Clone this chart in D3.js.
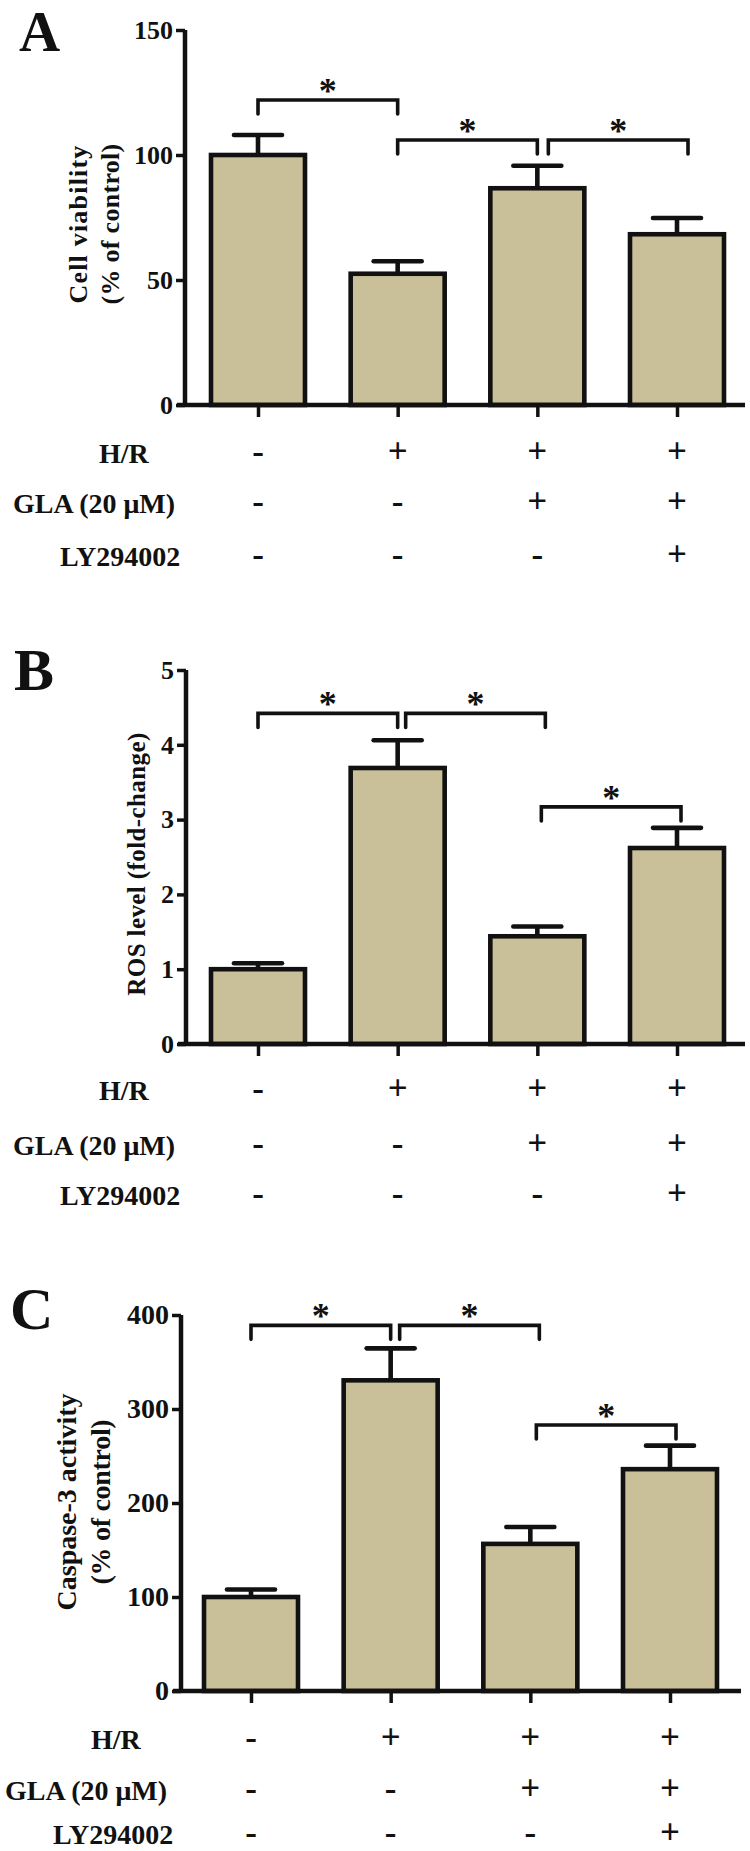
<!DOCTYPE html>
<html>
<head>
<meta charset="utf-8">
<script src="https://cdn.jsdelivr.net/npm/d3@7"></script>
<style>
  html, body { margin: 0; padding: 0; background: #fff; }
  svg text { font-family: "Liberation Serif", "Times New Roman", serif; font-weight: bold; fill: #111; }
</style>
</head>
<body>
<svg id="chart" width="750" height="1851"></svg>
<script>
// ---------- data ----------
const categories = ["Control", "H/R", "H/R + GLA", "H/R + GLA + LY294002"];
const rowLabels = ["H/R", "GLA (20 μM)", "LY294002"];
const rowSigns = [
  ["-", "+", "+", "+"],
  ["-", "-", "+", "+"],
  ["-", "-", "-", "+"]
];

const panelLetters = ["A", "B", "C"];

const valuesA = [100, 52.5, 86.7, 68.3];
const errorsA = [8, 5, 9, 6.5];
const ticksA = [0, 50, 100, 150];
const titleA = ["Cell viability", "(% of control)"];
const bracketsA = [[0, 1, 122], [1, 2, 106], [2, 3, 106]];

const valuesB = [1.0, 3.69, 1.44, 2.62];
const errorsB = [0.08, 0.37, 0.13, 0.27];
const ticksB = [0, 1, 2, 3, 4, 5];
const titleB = ["ROS level (fold-change)"];
const bracketsB = [[0, 1, 4.42], [1, 2, 4.42], [2, 3, 3.17]];

const valuesC = [100, 330.5, 156.5, 236];
const errorsC = [8, 34, 18, 25];
const ticksC = [0, 100, 200, 300, 400];
const titleC = ["Caspase-3 activity", "(% of control)"];
const bracketsC = [[0, 1, 389], [1, 2, 389], [2, 3, 283]];

// ---------- layout (positions / styles) ----------
const panels = [
  { letter: panelLetters[0], values: valuesA, errors: errorsA, ticks: ticksA, title: titleA, brackets: bracketsA,
    axisX: 185, yTop: 30, yBottom: 405, c0: 258, c3: 677, axisRight: 745,
    letterPos: [19, 51], letterSize: 57, titleX: [78, 110], titleY: 224, titleSize: 26, titleSpacing: [1.2, 0.3],
    tickSize: 26, rowBase: [463, 513, 566], rowX: [99, 13, 60], nudge: [0, 0, 11] },
  { letter: panelLetters[1], values: valuesB, errors: errorsB, ticks: ticksB, title: titleB, brackets: bracketsB,
    axisX: 186, yTop: 670, yBottom: 1044, c0: 258, c3: 677, axisRight: 745,
    letterPos: [14, 690], letterSize: 60, titleX: [136], titleY: 864, titleSize: 25, titleSpacing: [0.4],
    tickSize: 26, rowBase: [1100, 1155, 1205], rowX: [99, 13, 60], nudge: [0, 8, 4] },
  { letter: panelLetters[2], values: valuesC, errors: errorsC, ticks: ticksC, title: titleC, brackets: bracketsC,
    axisX: 181, yTop: 1315, yBottom: 1691, c0: 251, c3: 670, axisRight: 741,
    letterPos: [10, 1329], letterSize: 60, titleX: [66, 100], titleY: 1502, titleSize: 28, titleSpacing: [0, -0.3],
    tickSize: 28, rowBase: [1749, 1800, 1844], rowX: [91, 5, 53], nudge: [0, 9, 6] }
];

const fill = "#c9bf99";
const ink = "#111";
const barW = 94, barStroke = 4.6, capW = 48, axisStroke = 4.5, bracketStroke = 3.6, legLen = 14;

const svg = d3.select("#chart");

panels.forEach(p => {
  const g = svg.append("g");
  const yMax = p.ticks[p.ticks.length - 1];
  const y = d3.scaleLinear().domain([0, yMax]).range([p.yBottom, p.yTop]);
  const x = d3.scalePoint().domain(categories).range([p.c0, p.c3]);

  // panel letter
  g.append("text").attr("x", p.letterPos[0]).attr("y", p.letterPos[1])
    .style("font-size", p.letterSize + "px").text(p.letter);

  // bars
  g.selectAll("rect.bar").data(p.values).join("rect")
    .attr("class", "bar")
    .attr("x", (d, i) => x(categories[i]) - barW / 2)
    .attr("y", d => y(d))
    .attr("width", barW)
    .attr("height", d => y(0) - y(d))
    .attr("fill", fill).attr("stroke", ink).attr("stroke-width", barStroke);

  // error bars (upper only)
  g.selectAll("line.err").data(p.values).join("line")
    .attr("class", "err")
    .attr("x1", (d, i) => x(categories[i])).attr("x2", (d, i) => x(categories[i]))
    .attr("y1", d => y(d)).attr("y2", (d, i) => y(d + p.errors[i]))
    .attr("stroke", ink).attr("stroke-width", barStroke);
  g.selectAll("line.cap").data(p.values).join("line")
    .attr("class", "cap")
    .attr("x1", (d, i) => x(categories[i]) - capW / 2).attr("x2", (d, i) => x(categories[i]) + capW / 2)
    .attr("y1", (d, i) => y(d + p.errors[i])).attr("y2", (d, i) => y(d + p.errors[i]))
    .attr("stroke", ink).attr("stroke-width", barStroke).attr("stroke-linecap", "round");

  // y axis
  const yAxis = d3.axisLeft(y).tickValues(p.ticks).tickSize(9).tickPadding(3).tickFormat(d3.format("d"));
  const ya = g.append("g").attr("transform", `translate(${p.axisX},0)`).call(yAxis);
  ya.select(".domain").attr("d", `M0,${p.yTop}V${p.yBottom}`).attr("stroke", ink).attr("stroke-width", axisStroke);
  ya.selectAll(".tick line").attr("stroke", ink).attr("stroke-width", 3.5);
  ya.selectAll(".tick text").attr("fill", ink)
    .style("font-family", '"Liberation Serif", "Times New Roman", serif')
    .style("font-weight", "bold").style("font-size", p.tickSize + "px");

  // x axis
  const xAxis = d3.axisBottom(x).tickSize(12).tickFormat("");
  const xa = g.append("g").attr("transform", `translate(0,${p.yBottom})`).call(xAxis);
  xa.select(".domain").attr("d", `M${p.axisX - 8},0H${p.axisRight}`).attr("stroke", ink).attr("stroke-width", axisStroke);
  xa.selectAll(".tick line").attr("stroke", ink).attr("stroke-width", 3.5);

  // y title
  p.title.forEach((t, k) => {
    g.append("text")
      .attr("transform", `translate(${p.titleX[k]},${p.titleY}) rotate(-90)`)
      .attr("text-anchor", "middle").attr("dominant-baseline", "central")
      .style("font-size", p.titleSize + "px").style("letter-spacing", p.titleSpacing[k] + "px")
      .text(t);
  });

  // significance brackets
  p.brackets.forEach(([a, b, v], k) => {
    const shift = p.nudge[k];
    const xa1 = x(categories[a]) + shift, xb1 = x(categories[b]) + shift;
    const yy = y(v);
    g.append("path")
      .attr("d", `M${xa1},${yy + legLen}V${yy}H${xb1}V${yy + legLen}`)
      .attr("fill", "none").attr("stroke", ink).attr("stroke-width", bracketStroke)
      .attr("stroke-linecap", "round").attr("stroke-linejoin", "miter");
    g.append("text").attr("x", (xa1 + xb1) / 2).attr("y", yy + 3)
      .attr("text-anchor", "middle").style("font-size", "36px").text("*");
  });

  // treatment rows
  rowLabels.forEach((lab, r) => {
    g.append("text").attr("x", p.rowX[r]).attr("y", p.rowBase[r])
      .style("font-size", "28px").text(lab);
    g.selectAll(null).data(rowSigns[r]).join("text")
      .attr("x", (d, i) => x(categories[i]))
      .attr("y", p.rowBase[r])
      .attr("text-anchor", "middle")
      .style("font-size", "35px")
      .text(d => d);
  });
});
</script>
</body>
</html>
